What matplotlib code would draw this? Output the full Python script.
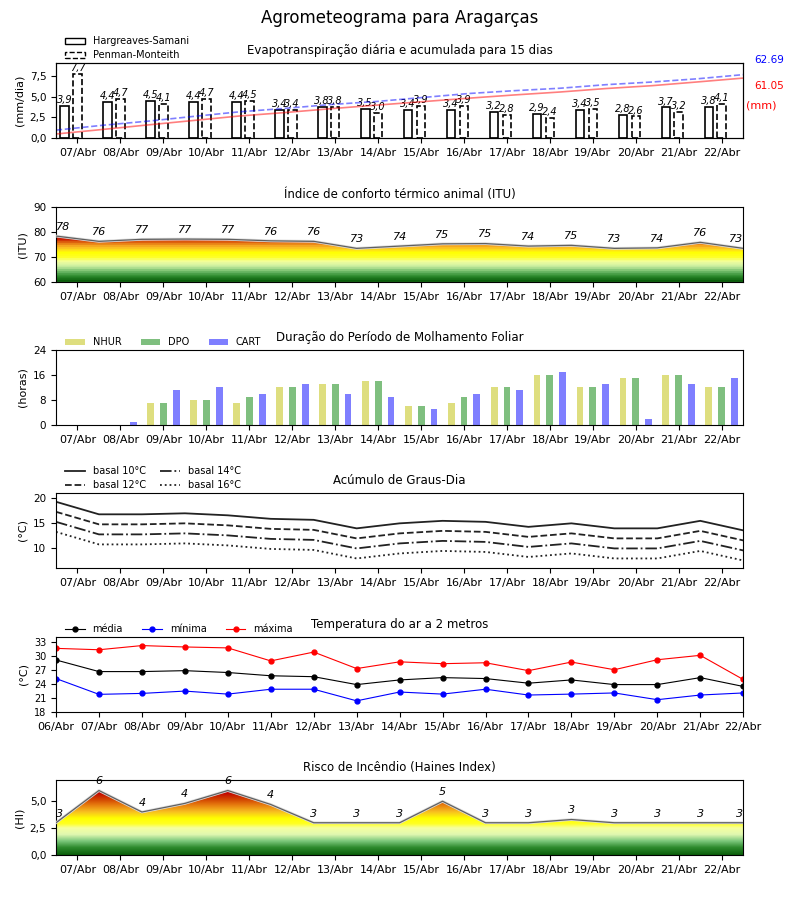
import numpy as np
import matplotlib
matplotlib.use('Agg')
import matplotlib.pyplot as plt
import matplotlib.patheffects as pe
from matplotlib.colors import LinearSegmentedColormap
from matplotlib.patches import Patch
from matplotlib.ticker import FuncFormatter, MultipleLocator

# dias de previsao
days = ['07/Abr', '08/Abr', '09/Abr', '10/Abr', '11/Abr', '12/Abr', '13/Abr', '14/Abr',
        '15/Abr', '16/Abr', '17/Abr', '18/Abr', '19/Abr', '20/Abr', '21/Abr', '22/Abr']
days_temp = ['06/Abr'] + days

# evapotranspiracao (mm/dia)
et_hs = [3.9, 4.4, 4.5, 4.4, 4.4, 3.4, 3.8, 3.5, 3.4, 3.4, 3.2, 2.9, 3.4, 2.8, 3.7, 3.8]
et_pm = [7.7, 4.7, 4.1, 4.7, 4.5, 3.4, 3.8, 3.0, 3.9, 3.9, 2.8, 2.4, 3.5, 2.6, 3.2, 4.1]
total_hs = 61.05
total_pm = 62.69

# indice de conforto termico (ITU)
itu = [78.3, 76.2, 77.0, 77.1, 77.0, 76.4, 76.2, 73.4, 74.3, 75.2, 75.3,
       74.3, 74.6, 73.4, 73.6, 75.8, 73.4]

# molhamento foliar (horas)
nhur = [0, 0, 7, 8, 7, 12, 13, 14, 6, 7, 12, 16, 12, 15, 16, 12]
dpo = [0, 0, 7, 8, 9, 12, 13, 14, 6, 9, 12, 16, 12, 15, 16, 12]
cart = [0, 1, 11, 12, 10, 13, 10, 9, 5, 10, 11, 17, 13, 2, 13, 15]

# temperatura do ar (C)
t_med = [29.2, 26.7, 26.7, 26.9, 26.5, 25.8, 25.6, 23.9, 24.9, 25.4, 25.2,
         24.2, 24.9, 23.9, 23.9, 25.4, 23.5]
t_min = [25.2, 21.8, 22.0, 22.5, 21.85, 22.9, 22.9, 20.4, 22.3, 21.85, 22.9,
         21.65, 21.85, 22.1, 20.65, 21.65, 22.1]
t_max = [31.7, 31.4, 32.3, 32.0, 31.8, 29.0, 30.9, 27.35, 28.8, 28.4, 28.6,
         26.9, 28.75, 27.1, 29.25, 30.2, 25.0]
bases = [10, 12, 14, 16]

# indice de Haines
haines = [3.0, 6.0, 4.0, 4.8, 6.0, 4.7, 3.0, 3.0, 3.0, 5.0, 3.0, 3.0, 3.3, 3.0, 3.0, 3.0, 3.0]


def comma(v, pos=None):
    return f'{v:.1f}'.replace('.', ',')


def gradient_fill(ax, x, y, lo, hi, stops, n=256):
    cmap = LinearSegmentedColormap.from_list(
        'grad', [((v - lo) / (hi - lo), c) for v, c in stops], N=n)
    poly = ax.fill_between(x, lo, y, facecolor='none', edgecolor='none')
    grad = np.linspace(lo, hi, 256).reshape(-1, 1)
    im = ax.imshow(grad, extent=[x[0], x[-1], lo, hi], origin='lower',
                   aspect='auto', cmap=cmap, vmin=lo, vmax=hi, zorder=1)
    im.set_clip_path(poly.get_paths()[0], ax.transData)
    ax.plot(x, y, color='#606060', lw=0.9, zorder=3,
            path_effects=[pe.Stroke(linewidth=2.0, foreground='#dddddd'), pe.Normal()])


def point_labels(ax, x, vals, fmt):
    for i, (xi, v) in enumerate(zip(x, vals)):
        ha = 'left' if i == 0 else ('right' if i == len(vals) - 1 else 'center')
        ax.annotate(fmt(v), (xi, v), xytext=(0, 3), textcoords='offset points',
                    ha=ha, va='bottom', fontsize=8, style='italic', zorder=4)


fig = plt.figure(figsize=(8, 9), dpi=100)
fig.suptitle('Agrometeograma para Aragarças', fontsize=12, y=0.99)

left, width, height = 0.07, 0.859, 0.0836
bottoms = [0.8467, 0.6867, 0.5278, 0.3689, 0.2089, 0.05]
axes = [fig.add_axes([left, b, width, height]) for b in bottoms]

x = np.arange(len(days))
x_edge = np.arange(len(days) + 1) - 0.5
leg_anchor = (0.008, 0.98)

for ax in axes:
    ax.tick_params(labelsize=7.5)

# 1. Evapotranspiracao
ax1 = axes[0]
ax1.bar(x - 0.3, et_hs, width=0.2, facecolor='white', edgecolor='black', lw=1.2)
ax1.bar(x, et_pm, width=0.2, facecolor='white', edgecolor='black', lw=1.2, linestyle='--')
for xi, v in zip(x, et_hs):
    ax1.text(xi - 0.3, v + 0.1, comma(v), ha='center', va='bottom', fontsize=7, style='italic')
for xi, v in zip(x, et_pm):
    ax1.text(xi, v + 0.1, comma(v), ha='center', va='bottom', fontsize=7, style='italic')
ax1.set_xlim(-0.5, 15.5)
ax1.set_ylim(0, 9.1)
ax1.yaxis.set_major_locator(MultipleLocator(2.5))
ax1.yaxis.set_major_formatter(FuncFormatter(comma))
ax1.set_xticks(x)
ax1.set_xticklabels(days, fontsize=8)
ax1.set_ylabel('(mm/dia)', fontsize=8)
ax1.set_title('Evapotranspiração diária e acumulada para 15 dias', fontsize=8.5)
tw = ax1.twinx()
xc = np.linspace(-0.5, 15.5, len(days))
tw.plot(xc, np.cumsum(et_hs), color='red', alpha=0.5, lw=1.2)
tw.plot(xc, np.cumsum(et_pm), color='blue', alpha=0.5, lw=1.2, linestyle='--')
tw.set_ylim(0, 74)
tw.set_yticks([])
ax1.text(1.016, 0.99, f'{total_pm:.2f}', transform=ax1.transAxes, color='blue', fontsize=7.5)
ax1.text(1.016, 0.65, f'{total_hs:.2f}', transform=ax1.transAxes, color='red', fontsize=7.5)
ax1.text(1.004, 0.39, '(mm)', transform=ax1.transAxes, color='red', fontsize=8)
h1 = [Patch(facecolor='white', edgecolor='black'),
      Patch(facecolor='white', edgecolor='black', linestyle='--')]
ax1.legend(h1, ['Hargreaves-Samani', 'Penman-Monteith'], loc='lower left',
           bbox_to_anchor=leg_anchor, frameon=False, fontsize=7, borderaxespad=0,
           labelspacing=0.4, handlelength=2.0)

# 2. ITU
ax2 = axes[1]
itu_stops = [(60, '#0b5e0b'), (62, '#2e8b2e'), (64, '#70bb6a'), (66, '#c8eea0'),
             (68, '#f2ffa0'), (70, '#ffff22'), (72, '#ffff00'), (73, '#ffd820'),
             (74.5, '#f6a820'), (76, '#e06a10'), (77.2, '#cc2000'), (79, '#c00000')]
gradient_fill(ax2, x_edge, itu, 60, 79, itu_stops, n=22)
point_labels(ax2, x_edge, itu, lambda v: f'{round(v)}')
ax2.set_xlim(-0.5, 15.5)
ax2.set_ylim(60, 90)
ax2.set_yticks([60, 70, 80, 90])
ax2.set_xticks(x)
ax2.set_xticklabels(days, fontsize=8)
ax2.set_ylabel('(ITU)', fontsize=8)
ax2.set_title('Índice de conforto térmico animal (ITU)', fontsize=8.5)

# 3. Molhamento foliar
ax3 = axes[2]
ax3.bar(x - 0.3, nhur, width=0.16, color='y', alpha=0.5, label='NHUR')
ax3.bar(x, dpo, width=0.16, color='g', alpha=0.5, label='DPO')
ax3.bar(x + 0.3, cart, width=0.16, color='b', alpha=0.5, label='CART')
ax3.set_xlim(-0.5, 15.5)
ax3.set_ylim(0, 24)
ax3.set_yticks([0, 8, 16, 24])
ax3.set_xticks(x)
ax3.set_xticklabels(days, fontsize=8)
ax3.set_ylabel('(horas)', fontsize=8)
ax3.set_title('Duração do Período de Molhamento Foliar', fontsize=8.5)
ax3.legend(loc='lower left', bbox_to_anchor=leg_anchor, ncol=3, frameon=False,
           fontsize=7, borderaxespad=0, columnspacing=2.0)

# 4. Graus-dia
ax4 = axes[3]
styles = ['-', '--', '-.', ':']
for b, ls in zip(bases, styles):
    ax4.plot(x_edge, np.array(t_med) - b, color='#222222', lw=1.3, linestyle=ls,
             label=f'basal {b}°C')
ax4.set_xlim(-0.5, 15.5)
ax4.set_ylim(6, 21)
ax4.set_yticks([10, 15, 20])
ax4.set_xticks(x)
ax4.set_xticklabels(days, fontsize=8)
ax4.set_ylabel('(°C)', fontsize=8)
ax4.set_title('Acúmulo de Graus-Dia', fontsize=8.5)
ax4.legend(loc='lower left', bbox_to_anchor=leg_anchor, ncol=2, frameon=False,
           fontsize=7, borderaxespad=0, labelspacing=0.4, columnspacing=1.5)

# 5. Temperatura
ax5 = axes[4]
xt = np.arange(len(days_temp))
ax5.plot(xt, t_med, color='black', marker='o', ms=3.5, lw=0.8, label='média')
ax5.plot(xt, t_min, color='blue', marker='o', ms=3.5, lw=0.8, label='mínima')
ax5.plot(xt, t_max, color='red', marker='o', ms=3.5, lw=0.8, label='máxima')
ax5.set_xlim(0, 16)
ax5.set_ylim(18, 34.2)
ax5.set_yticks([18, 21, 24, 27, 30, 33])
ax5.tick_params(axis='y', labelsize=7)
ax5.set_xticks(xt)
ax5.set_xticklabels(days_temp, fontsize=8)
ax5.set_ylabel('(°C)', fontsize=8)
ax5.set_title('Temperatura do ar a 2 metros', fontsize=8.5)
ax5.legend(loc='lower left', bbox_to_anchor=leg_anchor, ncol=3, frameon=False,
           fontsize=7, borderaxespad=0, columnspacing=2.0)

# 6. Haines
ax6 = axes[5]
hi_stops = [(0, '#0b5e0b'), (0.7, '#2e8b2e'), (1.3, '#7cc87c'), (1.9, '#e0f8b0'),
            (2.5, '#f5ffa0'), (2.9, '#ffff22'), (3.4, '#ffff00'), (4.0, '#f8c020'),
            (4.6, '#e88010'), (5.2, '#d04000'), (5.8, '#c00000'), (6.2, '#c00000')]
gradient_fill(ax6, x_edge, haines, 0, 6.2, hi_stops)
point_labels(ax6, x_edge, haines, lambda v: f'{int(v)}')
ax6.set_xlim(-0.5, 15.5)
ax6.set_ylim(0, 7.0)
ax6.yaxis.set_major_locator(MultipleLocator(2.5))
ax6.yaxis.set_major_formatter(FuncFormatter(comma))
ax6.set_xticks(x)
ax6.set_xticklabels(days, fontsize=8)
ax6.set_ylabel('(HI)', fontsize=8)
ax6.set_title('Risco de Incêndio (Haines Index)', fontsize=8.5)

fig.savefig('out.png', dpi=100)
